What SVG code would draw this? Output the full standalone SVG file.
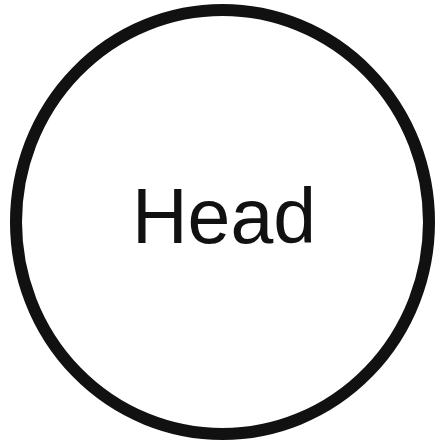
<svg xmlns="http://www.w3.org/2000/svg" width="440" height="443" viewBox="0 0 440 443">
<style>
.node{fill:#fff;stroke:#111;stroke-width:12}
.lbl{font-family:"Liberation Sans",Arial,sans-serif;font-size:77px;fill:#111;text-anchor:middle}
</style>
<rect width="440" height="443" fill="#fff"/>
<g id="connectors"></g>
<g id="head">
<ellipse class="node" cx="222.5" cy="222" rx="206.5" ry="212"/>
<text class="lbl" x="224" y="243">Head</text>
</g>
</svg>
